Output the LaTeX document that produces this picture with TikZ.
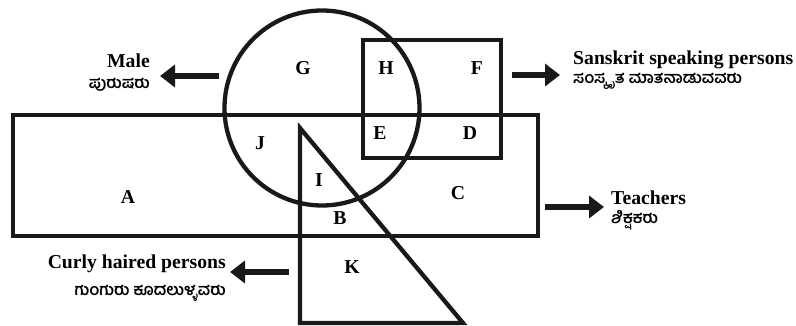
\documentclass[tikz,border=0pt]{standalone}
\usepackage{fontspec}
\setmainfont{Liberation Serif}
\newfontfamily\kanfont[Script=Kannada]{Hind Mysuru}
\usetikzlibrary{arrows.meta}
\tikzset{
  shp/.style={draw=black!90, line width=4.3pt},
  reg/.style={font=\fontsize{19.7}{22}\selectfont\bfseries, inner sep=0pt},
  eng/.style={font=\fontsize{19.7}{22}\selectfont\bfseries, inner sep=0pt},
  kan/.style={font=\kanfont\fontsize{16}{18}\selectfont\bfseries, inner sep=0pt},
  bigarrow/.style={draw=black!90, line width=6pt, -{Triangle[length=15pt,width=22pt]}}
}
\begin{document}
\begin{tikzpicture}[x=1pt,y=-1pt]
\useasboundingbox (0,0) rectangle (796,326);
% shapes
\draw[shp] (13,115) rectangle (538,236);
\draw[shp] (322,108) circle[radius=97.5];
\draw[shp] (363,40) rectangle (501,158);
\draw[shp, line join=miter] (300,128) -- (300,323) -- (463,323) -- cycle;
% region letters
\node[reg] (G) at (303,68) {G};
\node[reg] (H) at (386,68) {H};
\node[reg] (F) at (477,68) {F};
\node[reg] (J) at (260,143) {J};
\node[reg] (E) at (380,133) {E};
\node[reg] (D) at (470,133) {D};
\node[reg] (A) at (128,197) {A};
\node[reg] (I) at (319,180) {I};
\node[reg] (B) at (340,218) {B};
\node[reg] (C) at (458,193) {C};
\node[reg] (K) at (352,267) {K};
% labels
\node[eng, anchor=base east] (male) at (150,68) {Male};
\node[kan, anchor=base east] (malek) at (150,89) {ಪುರುಷರು};
\node[eng, anchor=base west] (skt) at (573,65) {Sanskrit speaking persons};
\node[kan, anchor=base west] (sktk) at (573,84) {ಸಂಸ್ಕೃತ ಮಾತನಾಡುವವರು};
\node[eng, anchor=base west] (tea) at (611,205) {Teachers};
\node[kan, anchor=base west] (teak) at (611,224) {ಶಿಕ್ಷಕರು};
\node[eng, anchor=base east] (cur) at (226,269) {Curly haired persons};
\node[kan, anchor=base east] (curk) at (226,295) {ಗುಂಗುರು ಕೂದಲುಳ್ಳವರು};
% arrow ends
\coordinate (m1) at (219,76); \coordinate (m2) at (160,76);
\coordinate (s1) at (512,75); \coordinate (s2) at (560,75);
\coordinate (t1) at (545,207); \coordinate (t2) at (604,207);
\coordinate (c1) at (289,272); \coordinate (c2) at (230,272);
\draw[bigarrow] (m1) -- (m2);
\draw[bigarrow] (s1) -- (s2);
\draw[bigarrow] (t1) -- (t2);
\draw[bigarrow] (c1) -- (c2);
\end{tikzpicture}
\end{document}
